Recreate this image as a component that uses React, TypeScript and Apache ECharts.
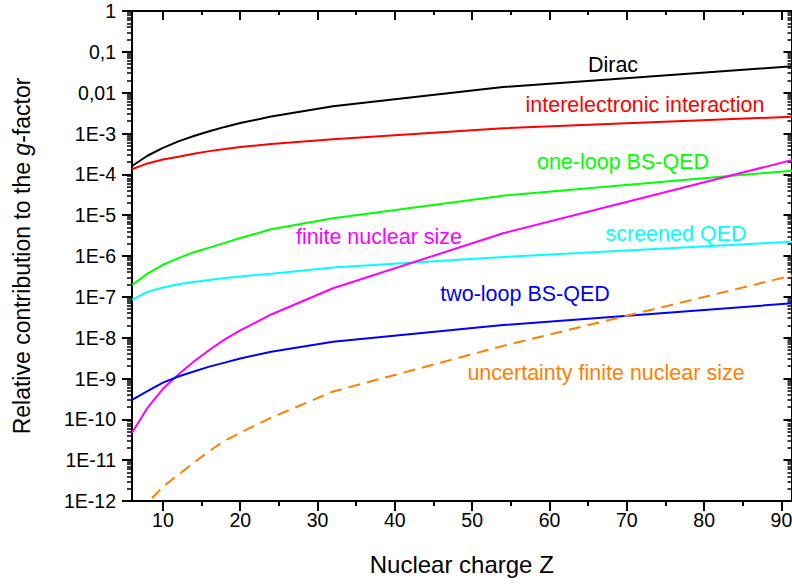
import React, { useEffect, useRef } from "react";
import * as echarts from "echarts";

// Nuclear charge Z of the computed ions
const zValues = [6, 8, 10, 12, 14, 16, 18, 20, 24, 32, 54, 92];

// Relative contributions to the g-factor
const dirac = [1.6e-4, 2.85e-4, 4.45e-4, 6.4e-4, 8.7e-4, 1.14e-3, 1.45e-3, 1.8e-3, 2.6e-3, 4.65e-3, 1.37e-2, 4.5e-2];
const interelectronic = [1.33e-4, 1.85e-4, 2.3e-4, 2.7e-4, 3.2e-4, 3.7e-4, 4.15e-4, 4.7e-4, 5.5e-4, 7.2e-4, 1.34e-3, 2.6e-3];
const oneLoopQED = [1.95e-7, 3.7e-7, 6.1e-7, 8.9e-7, 1.24e-6, 1.6e-6, 2.1e-6, 2.75e-6, 4.5e-6, 8.4e-6, 3.0e-5, 1.26e-4];
const screenedQED = [8.4e-8, 1.32e-7, 1.7e-7, 2.04e-7, 2.3e-7, 2.57e-7, 2.9e-7, 3.15e-7, 3.7e-7, 5.25e-7, 9.5e-7, 2.26e-6];
const finiteNuclearSize = [4.7e-11, 1.9e-10, 5.6e-10, 1.26e-9, 2.6e-9, 5.0e-9, 9.1e-9, 1.5e-8, 3.7e-8, 1.62e-7, 3.6e-6, 2.4e-4];
const twoLoopQED = [3.0e-10, 4.9e-10, 7.9e-10, 1.12e-9, 1.48e-9, 1.95e-9, 2.45e-9, 3.1e-9, 4.5e-9, 7.9e-9, 2.04e-8, 7.1e-8];
const uncertaintyFNS = [1.9e-13, 8.9e-13, 2.24e-12, 4.4e-12, 8.7e-12, 1.66e-11, 3.0e-11, 4.7e-11, 1.1e-10, 4.8e-10, 6.3e-9, 3.55e-7];

// Axis ticks
const xMajorTicks = [10, 20, 30, 40, 50, 60, 70, 80, 90];
const xMinorTicks = [15, 25, 35, 45, 55, 65, 75, 85];
const yMajorTicks = [1e-12, 1e-11, 1e-10, 1e-9, 1e-8, 1e-7, 1e-6, 1e-5, 1e-4, 1e-3, 1e-2, 1e-1, 1];
const yDecades = [-12, -11, -10, -9, -8, -7, -6, -5, -4, -3, -2, -1];
const yMantissas = [2, 3, 4, 5, 6, 7, 8, 9];

const FONT = '"Liberation Sans", Arial, Helvetica, sans-serif';

const yMinorTicks: number[] = [];
yDecades.forEach((e) => {
  yMantissas.forEach((m) => {
    yMinorTicks.push(Number((m * Math.pow(10, e)).toPrecision(3)));
  });
});

const pair = (ys: number[]) => zValues.map((z, i) => [z, ys[i]]);

const seriesDefs = [
  { name: "Dirac", data: dirac, color: "#000000", dashed: false },
  { name: "interelectronic interaction", data: interelectronic, color: "#ff0000", dashed: false },
  { name: "one-loop BS-QED", data: oneLoopQED, color: "#00ff00", dashed: false },
  { name: "screened QED", data: screenedQED, color: "#00ffff", dashed: false },
  { name: "finite nuclear size", data: finiteNuclearSize, color: "#ff00ff", dashed: false },
  { name: "two-loop BS-QED", data: twoLoopQED, color: "#0000ff", dashed: false },
  { name: "uncertainty finite nuclear size", data: uncertaintyFNS, color: "#ff8000", dashed: true },
];

const labelDefs = [
  { text: "Dirac", x: 613, y: 65, color: "#000000" },
  { text: "interelectronic interaction", x: 645, y: 105, color: "#ff0000" },
  { text: "one-loop BS-QED", x: 623, y: 162, color: "#00ff00" },
  { text: "finite nuclear size", x: 379, y: 237, color: "#ff00ff" },
  { text: "screened QED", x: 676, y: 234, color: "#00ffff" },
  { text: "two-loop BS-QED", x: 525, y: 294, color: "#0000ff" },
  { text: "uncertainty finite nuclear size", x: 606, y: 373, color: "#ff8000" },
];

const X_MIN = 6;
const X_MAX = 91.3;

const yLabel = (v: number) => {
  const e = Math.round(Math.log10(v));
  if (e === 0) return "1";
  if (e === -1) return "0,1";
  if (e === -2) return "0,01";
  return "1E" + e;
};

export default function App() {
  const ref = useRef<HTMLDivElement>(null);
  useEffect(() => {
    if (!ref.current) return;
    const chart = echarts.init(ref.current, undefined, { renderer: "svg" });
    const black = "#000000";
    const baseX = {
      type: "value" as const,
      min: X_MIN,
      max: X_MAX,
      splitLine: { show: false },
    };
    const baseY = {
      type: "log" as const,
      logBase: 10,
      min: 1e-12,
      max: 1,
      splitNumber: 12,
      splitLine: { show: false },
    };
    const option: any = {
      animation: false,
      backgroundColor: "#ffffff",
      grid: { left: 132, right: 0.5, top: 11, bottom: 83, containLabel: false, outerBoundsMode: "none" },
      xAxis: [
        {
          ...baseX,
          position: "bottom",
          name: "Nuclear charge Z",
          nameLocation: "middle",
          nameGap: 51,
          nameTextStyle: { fontSize: 24, fontFamily: FONT, color: black },
          axisLine: { show: true, lineStyle: { color: black, width: 2 } },
          axisTick: { show: true, inside: false, length: 10, customValues: xMajorTicks, lineStyle: { color: black, width: 2 } },
          axisLabel: { show: true, customValues: xMajorTicks, margin: 9, fontSize: 19.5, fontFamily: FONT, color: black },
        },
        {
          ...baseX,
          position: "bottom",
          axisLine: { show: false },
          axisTick: { show: true, inside: false, length: 5, customValues: xMinorTicks, lineStyle: { color: black, width: 2 } },
          axisLabel: { show: false },
        },
        {
          ...baseX,
          position: "top",
          axisLine: { show: true, lineStyle: { color: black, width: 2 } },
          axisTick: { show: true, inside: true, length: 9, customValues: xMajorTicks, lineStyle: { color: black, width: 2 } },
          axisLabel: { show: false },
        },
        {
          ...baseX,
          position: "top",
          axisLine: { show: false },
          axisTick: { show: true, inside: true, length: 4, customValues: xMinorTicks, lineStyle: { color: black, width: 2 } },
          axisLabel: { show: false },
        },
      ],
      yAxis: [
        {
          ...baseY,
          position: "left",
          name: "Relative contribution to the {i|g}-factor",
          nameLocation: "middle",
          nameRotate: 90,
          nameGap: 99,
          nameTextStyle: {
            fontSize: 23,
            fontFamily: FONT,
            color: black,
            rich: { i: { fontSize: 23, fontFamily: FONT, fontStyle: "italic", color: black } },
          },
          axisLine: { show: true, lineStyle: { color: black, width: 2 } },
          axisTick: { show: true, inside: false, length: 10, customValues: yMajorTicks, lineStyle: { color: black, width: 2 } },
          axisLabel: {
            show: true,
            customValues: yMajorTicks,
            hideOverlap: false,
            margin: 16,
            fontSize: 19.5,
            fontFamily: FONT,
            color: black,
            formatter: yLabel,
          },
        },
        {
          ...baseY,
          position: "left",
          axisLine: { show: false },
          axisTick: { show: true, inside: false, length: 5, customValues: yMinorTicks, lineStyle: { color: black, width: 1.5 } },
          axisLabel: { show: false },
        },
        {
          ...baseY,
          position: "right",
          axisLine: { show: true, lineStyle: { color: black, width: 2 } },
          axisTick: { show: true, inside: true, length: 8, customValues: yMajorTicks, lineStyle: { color: black, width: 2 } },
          axisLabel: { show: false },
        },
        {
          ...baseY,
          position: "right",
          axisLine: { show: false },
          axisTick: { show: true, inside: true, length: 4, customValues: yMinorTicks, lineStyle: { color: black, width: 1.5 } },
          axisLabel: { show: false },
        },
      ],
      series: seriesDefs.map((s) => ({
        type: "line",
        name: s.name,
        xAxisIndex: 0,
        yAxisIndex: 0,
        data: pair(s.data),
        showSymbol: false,
        symbol: "none",
        clip: true,
        smooth: false,
        lineStyle: { color: s.color, width: 2, type: s.dashed ? [12, 7] : "solid" },
        itemStyle: { color: s.color },
        z: 3,
      })),
      graphic: labelDefs.map((l) => ({
        type: "text",
        x: l.x,
        y: l.y,
        z: 10,
        style: {
          text: l.text,
          fill: l.color,
          fontSize: 21.5,
          fontFamily: FONT,
          textAlign: "center",
          textVerticalAlign: "middle",
          align: "center",
          verticalAlign: "middle",
        },
      })),
    };
    chart.setOption(option);
    return () => chart.dispose();
  }, []);
  return (
    <div
      ref={ref}
      style={{ position: "absolute", left: 0, top: 0, width: 792, height: 584, background: "#fff" }}
    />
  );
}
